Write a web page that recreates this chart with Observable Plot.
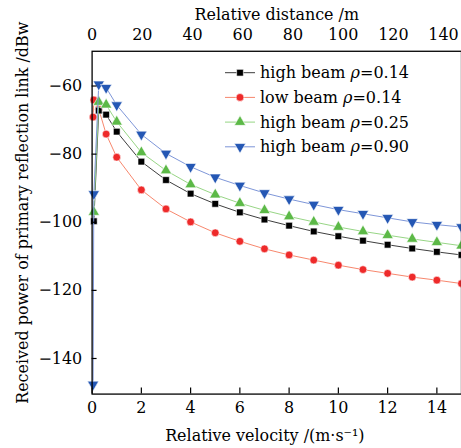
<!DOCTYPE html>
<html><head><meta charset="utf-8">
<script src="https://cdn.jsdelivr.net/npm/d3@7"></script>
<script src="https://cdn.jsdelivr.net/npm/@observablehq/plot@0.6"></script>
<style>
body{margin:0;background:#fff;}
#wrap{position:relative;width:461px;height:448px;overflow:hidden;background:#fff;}
#wrap svg{position:absolute;left:0;top:0;}
#wrap svg, #wrap svg text{font-family:"DejaVu Serif","Liberation Serif",serif !important;}
</style></head><body><div id="wrap"></div>
<script>
// ---- data ----
const xTicks = [0, 2, 4, 6, 8, 10, 12, 14];
const yTicks = [-140, -120, -100, -80, -60];
const distTicks = [0, 20, 40, 60, 80, 100, 120, 140];
const metersPerVelocityUnit = 9.81;

const xLabel = "Relative velocity /(m·s⁻¹)";
const topLabel = "Relative distance /m";
const yLabel = "Received power of primary reflection link /dBw";

const hb014X = [0.07, 0.27, 0.57, 1, 2, 3, 4, 5, 6, 7, 8, 9, 10, 11, 12, 13, 14, 15];
const hb014Y = [-99.7, -67.2, -68.4, -73.4, -82.2, -87.6, -91.6, -94.6, -97.1, -99.2, -101.0, -102.7, -104.1, -105.4, -106.6, -107.7, -108.7, -109.6];

const lb014X = [0.04, 0.07, 0.27, 0.57, 1, 2, 3, 4, 5, 6, 7, 8, 9, 10, 11, 12, 13, 14, 15];
const lb014Y = [-69.1, -64.1, -66.8, -74.1, -80.9, -90.5, -96.1, -99.9, -103.1, -105.6, -107.8, -109.6, -111.1, -112.6, -113.9, -115.0, -116.1, -117.0, -118.0];

const hb025X = [0.07, 0.27, 0.57, 1, 2, 3, 4, 5, 6, 7, 8, 9, 10, 11, 12, 13, 14, 15];
const hb025Y = [-97.0, -64.7, -65.5, -70.5, -79.5, -84.8, -88.9, -91.9, -94.4, -96.5, -98.3, -99.9, -101.4, -102.7, -103.8, -104.9, -105.9, -106.9];

const hb090X = [0.04, 0.07, 0.27, 0.57, 1, 2, 3, 4, 5, 6, 7, 8, 9, 10, 11, 12, 13, 14, 15];
const hb090Y = [-147.6, -91.7, -59.5, -60.5, -65.6, -74.2, -79.8, -83.7, -86.8, -89.2, -91.4, -93.2, -94.8, -96.3, -97.5, -98.7, -99.9, -100.7, -101.4];

const seriesPrefix = ["high beam ", "low beam ", "high beam ", "high beam "];
const seriesRho = ["0.14", "0.14", "0.25", "0.90"];

// ---- styles ----
const FONT = "'DejaVu Serif','Liberation Serif',serif";
const series = [
  {x: hb014X, y: hb014Y, line: "#3c3c3c", fill: "#000000", symbol: "square", rotate: 0, r: 3.8},
  {x: lb014X, y: lb014Y, line: "#f7866c", fill: "#ee2a2a", symbol: "circle", rotate: 0, r: 3.9},
  {x: hb025X, y: hb025Y, line: "#96d584", fill: "#5cb947", symbol: "triangle", rotate: 0, r: 4.2},
  {x: hb090X, y: hb090Y, line: "#7d95d8", fill: "#2457b4", symbol: "triangle", rotate: 180, r: 4.2}
];
const drawOrder = [1, 0, 2, 3];

const minus = v => v < 0 ? "\u2212" + Math.abs(v) : String(v);

const marks = [];
for (const i of drawOrder) {
  const s = series[i];
  const data = s.x.map((x, j) => ({x, y: s.y[j]}));
  marks.push(Plot.line(data, {x: "x", y: "y", stroke: s.line, strokeWidth: 1}));
  marks.push(Plot.dot(data, {x: "x", y: "y", symbol: s.symbol, r: s.r, fill: s.fill, stroke: "white", strokeWidth: 0.6, rotate: s.rotate}));
}

const chart = Plot.plot({
  width: 463, height: 448,
  marginLeft: 92, marginRight: 0, marginTop: 51, marginBottom: 52.7,
  style: {fontFamily: FONT, fontSize: "16px", background: "transparent", color: "#000", overflow: "visible"},
  x: {domain: [0, 15]},
  y: {domain: [-150.45, -49.8]},
  marks: [
    ...marks,
    Plot.frame({stroke: "#000", strokeWidth: 1.3}),
    Plot.axisX({anchor: "bottom", ticks: xTicks, tickSize: -6, tickFormat: () => "", label: null, strokeWidth: 1.2}),
    Plot.axisX({anchor: "bottom", ticks: xTicks, tickSize: 0, tickPadding: 8, label: null, fontSize: 16}),
    Plot.axisX({anchor: "top", ticks: distTicks.map(d => d / metersPerVelocityUnit), tickSize: 0, tickPadding: 11, fontSize: 16,
      tickFormat: v => String(Math.round(v * metersPerVelocityUnit)), label: null}),
    Plot.axisY({ticks: yTicks, tickSize: -5, tickFormat: () => "", label: null, strokeWidth: 1.2}),
    Plot.axisY({ticks: yTicks, tickSize: 0, tickPadding: 10, tickFormat: minus, label: null, fontSize: 16}),
    Plot.text([yLabel], {text: d => d, frameAnchor: "left", textAnchor: "middle", rotate: -90, dx: -70, dy: -10, fontSize: 16}),
    Plot.text([xLabel], {text: d => d, frameAnchor: "bottom", textAnchor: "middle", dx: -12, dy: 47, fontSize: 16}),
    Plot.text([topLabel], {text: d => d, frameAnchor: "top", textAnchor: "middle", dy: -43, fontSize: 16})
  ]
});
document.getElementById("wrap").appendChild(chart);

// ---- legend ----
const lg = d3.select("#wrap").append("svg")
  .attr("width", 461).attr("height", 448)
  .style("font-family", FONT).style("font-size", "16px");
const symbolMap = {square: d3.symbolSquare, circle: d3.symbolCircle, triangle: d3.symbolTriangle};
series.forEach((s, i) => {
  const cy = 72.7 + i * 24.7;
  const g = lg.append("g").attr("transform", `translate(0,${cy})`);
  g.append("line").attr("x1", 225).attr("x2", 255).attr("y1", 0).attr("y2", 0).attr("stroke", s.line).attr("stroke-width", 1);
  g.append("path").attr("d", d3.symbol(symbolMap[s.symbol], Math.PI * s.r * s.r)())
    .attr("transform", `translate(240,0) rotate(${s.rotate})`)
    .attr("fill", s.fill).attr("stroke", "white").attr("stroke-width", 0.6);
  const t = g.append("text").attr("x", 260).attr("y", 5.5).attr("fill", "#000");
  t.append("tspan").text(seriesPrefix[i]);
  t.append("tspan").attr("font-style", "italic").text("ρ");
  t.append("tspan").text("=" + seriesRho[i]);
});
</script></body></html>
